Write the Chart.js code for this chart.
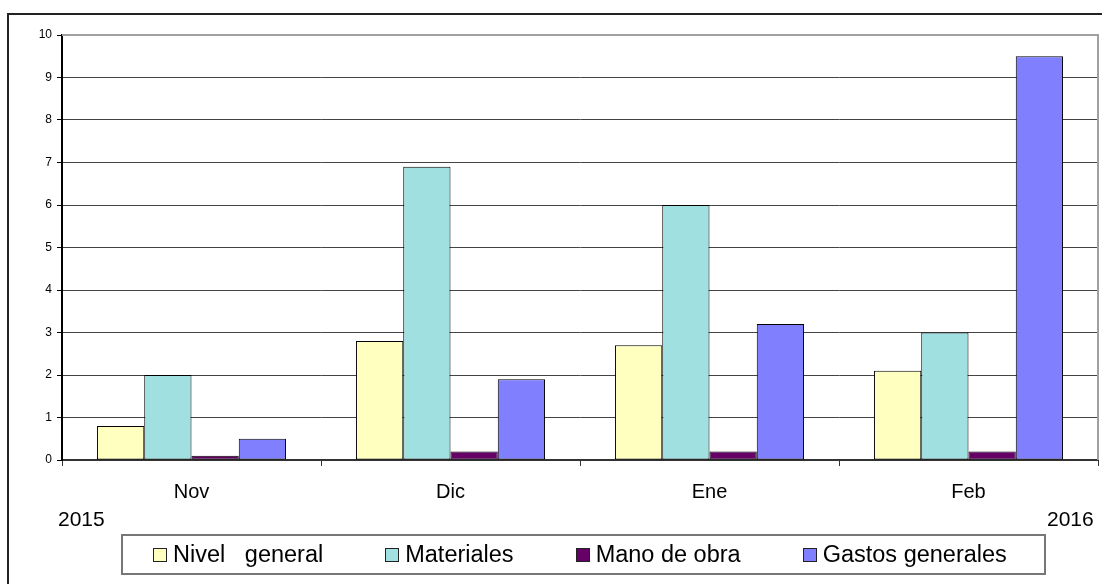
<!DOCTYPE html>
<html>
<head>
<meta charset="utf-8">
<script src="https://cdn.jsdelivr.net/npm/chart.js@4/dist/chart.umd.min.js"></script>
<style>
  body { margin: 0; background: #fff; font-family: "Liberation Sans", Arial, sans-serif; }
  #wrap { position: relative; width: 1102px; height: 584px; overflow: hidden; }
  #frame { position: absolute; left: 7px; top: 13px; width: 1200px; height: 700px;
           border-left: 2px solid #222; border-top: 2px solid #222; }
  canvas { position: absolute; left: 0; top: 0; }
  .year { position: absolute; font-size: 21px; line-height: 21px; color: #000; }
  #legend { position: absolute; left: 121px; top: 534px; width: 891px; height: 37px;
            border: 2px solid #777; display: flex; align-items: center; padding-left: 30px;
            box-sizing: content-box; }
  .item { display: flex; align-items: center; margin-right: 62px; font-size: 23.5px; white-space: pre; }
  .box { width: 12px; height: 12px; border: 1px solid #222; margin-right: 6px; }
</style>
</head>
<body>
<div id="wrap">
  <div id="frame"></div>
  <canvas id="barChart" width="1102" height="584"></canvas>
  <div class="year" style="left:58px; top:508px;">2015</div>
  <div class="year" style="left:1047px; top:508px;">2016</div>
  <div id="legend"></div>
</div>
<script>
// ---data---
var months = ["Nov", "Dic", "Ene", "Feb"];
var seriesNames = ["Nivel   general", "Materiales", "Mano de obra", "Gastos generales"];
var nivelGeneral = [0.8, 2.8, 2.7, 2.1];
var materiales = [2.0, 6.9, 6.0, 3.0];
var manoDeObra = [0.1, 0.2, 0.2, 0.2];
var gastosGenerales = [0.5, 1.9, 3.2, 9.5];
var colors = ["#FFFFC0", "#A0E0E0", "#660066", "#8080FF"];

// ---plot frame: grey top and right edge---
var plotFrame = {
  id: "plotFrame",
  afterDraw: function (chart) {
    var a = chart.chartArea;
    var c = chart.ctx;
    c.save();
    c.strokeStyle = "#a0a0a0";
    c.lineWidth = 2;
    c.beginPath();
    c.moveTo(a.left, a.top);
    c.lineTo(a.right, a.top);
    c.lineTo(a.right, a.bottom);
    c.stroke();
    c.restore();
  },
};

var values = [nivelGeneral, materiales, manoDeObra, gastosGenerales];
var datasets = [];
for (var i = 0; i < values.length; i++) {
  datasets.push({
    label: seriesNames[i],
    data: values[i],
    backgroundColor: colors[i],
    borderColor: "#000",
    borderWidth: 1,
    borderSkipped: false,
    barPercentage: 1,
    categoryPercentage: 0.73,
  });
}

var ctxB = document.getElementById("barChart").getContext("2d");
var myBarChart = new Chart(ctxB, {
  type: "bar",
  data: { labels: months, datasets: datasets },
  plugins: [plotFrame],
  options: {
    responsive: false,
    animation: false,
    layout: { padding: { top: 35, right: 4, left: 0, bottom: 84 } },
    plugins: { legend: { display: false }, tooltip: { enabled: false } },
    scales: {
      x: {
        afterFit: function (scale) { scale.height = 40; },
        grid: { drawOnChartArea: false, drawTicks: true, tickLength: 6, tickColor: "#333" },
        border: { color: "#333", width: 2 },
        ticks: { color: "#000", padding: 14, font: { family: "Liberation Sans", size: 20 } },
      },
      y: {
        min: 0,
        max: 10,
        afterFit: function (scale) { scale.width = 62; },
        grid: { color: "#444", lineWidth: 1, tickLength: 5, tickColor: "#000" },
        border: { color: "#000", width: 2 },
        ticks: { stepSize: 1, color: "#000", padding: 5, font: { family: "Liberation Sans", size: 12 } },
      },
    },
  },
});

// ---legend---
var legend = document.getElementById("legend");
for (var j = 0; j < seriesNames.length; j++) {
  var item = document.createElement("div");
  item.className = "item";
  var sw = document.createElement("span");
  sw.className = "box";
  sw.style.background = colors[j];
  item.appendChild(sw);
  item.appendChild(document.createTextNode(seriesNames[j]));
  legend.appendChild(item);
}
</script>
</body>
</html>
